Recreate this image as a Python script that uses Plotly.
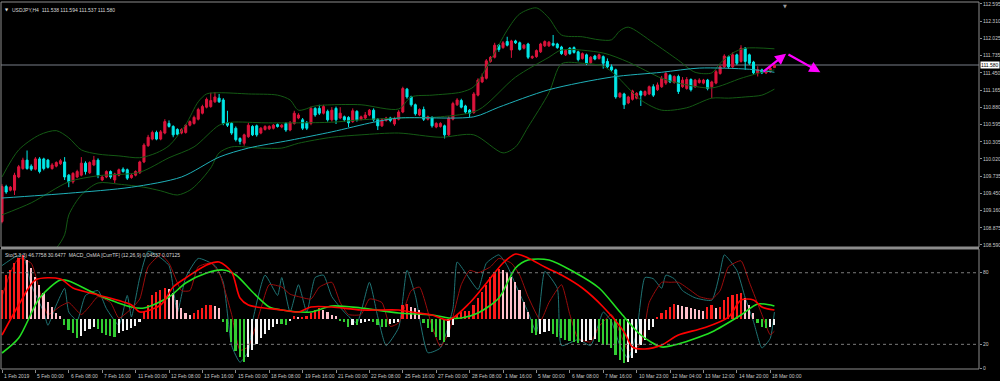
import plotly.graph_objects as go

# ---------------- DATA ----------------
opens = [108.98,109.56,109.50,109.50,109.72,109.86,110.00,109.90,109.85,110.02,
         110.02,110.00,109.86,109.90,109.94,109.97,109.75,109.64,109.72,109.75,
         109.95,109.79,109.92,110.00,109.67,109.72,109.81,109.67,109.75,109.85,
         109.84,109.71,109.75,109.79,109.97,110.24,110.35,110.46,110.35,110.45,
         110.61,110.56,110.51,110.45,110.46,110.58,110.61,110.68,110.78,110.88,
         110.89,110.97,111.03,111.00,110.62,110.61,110.53,110.36,110.28,110.39,
         110.56,110.57,110.45,110.51,110.52,110.53,110.59,110.55,110.61,110.50,
         110.61,110.70,110.67,110.62,110.61,110.86,110.86,110.78,110.81,110.67,
         110.86,110.70,110.72,110.71,110.64,110.81,110.68,110.70,110.75,110.83,
         110.68,110.57,110.66,110.70,110.60,110.68,110.80,111.18,111.05,110.92,
         110.75,110.84,110.68,110.71,110.55,110.56,110.57,110.42,110.68,110.92,
         110.99,110.90,110.83,110.79,111.08,111.30,111.36,111.64,111.71,111.91,
         111.87,111.97,111.83,111.98,111.95,111.86,111.93,111.70,111.72,111.80,
         111.90,111.90,111.94,111.93,111.88,111.75,111.86,111.87,111.80,111.69,
         111.75,111.62,111.73,111.69,111.72,111.64,111.55,111.50,111.05,111.10,
         110.95,111.01,111.03,111.14,111.08,111.10,111.22,111.17,111.22,111.28,
         111.41,111.29,111.39,111.22,111.19,111.34,111.22,111.29,111.28,111.33,
         111.22,111.28,111.44,111.55,111.72,111.55,111.75,111.64,111.86,111.75,
         111.63,111.45,111.50,111.45,111.47,111.538]
highs = [109.60,109.59,109.57,109.79,109.92,110.04,110.16,109.93,110.05,110.05,
         110.04,110.02,109.95,109.98,110.02,110.05,109.77,109.80,109.84,110.05,
         109.98,109.98,110.07,110.03,109.75,109.83,109.83,109.79,109.86,109.88,
         109.86,109.77,109.83,109.99,110.28,110.42,110.49,110.49,110.50,110.68,
         110.66,110.58,110.53,110.53,110.60,110.66,110.74,110.87,110.92,111.04,
         111.12,111.13,111.10,111.03,110.82,110.63,110.56,110.38,110.44,110.62,
         110.58,110.59,110.55,110.58,110.58,110.60,110.61,110.60,110.63,110.65,
         110.82,110.78,110.70,110.65,110.89,110.88,110.92,110.92,110.84,110.88,
         110.89,110.88,110.74,110.73,110.86,110.83,110.74,110.80,110.85,110.86,
         110.70,110.70,110.72,110.72,110.72,110.83,111.22,111.20,111.07,110.94,
         110.86,110.89,110.74,110.73,110.63,110.63,110.59,110.73,110.97,111.03,
         111.02,110.92,110.85,111.13,111.36,111.44,111.68,111.73,111.95,111.93,
         111.98,112.05,112.00,112.00,111.97,111.93,111.95,111.74,111.84,111.95,
         111.99,111.98,112.08,111.95,111.90,111.84,111.88,111.89,111.82,111.79,
         111.77,111.73,111.75,111.77,111.74,111.69,111.59,111.52,111.13,111.12,
         111.07,111.17,111.13,111.16,111.16,111.24,111.26,111.29,111.40,111.47,
         111.43,111.41,111.42,111.38,111.38,111.36,111.35,111.36,111.35,111.35,
         111.32,111.50,111.57,111.76,111.74,111.79,111.77,111.91,111.88,111.77,
         111.65,111.56,111.52,111.52,111.55,111.594]
lows = [108.95,109.44,109.48,109.42,109.70,109.84,109.84,109.82,109.83,109.78,
        109.83,109.86,109.84,109.88,109.92,109.67,109.55,109.61,109.70,109.73,
        109.76,109.77,109.90,109.70,109.65,109.70,109.69,109.62,109.73,109.79,
        109.67,109.69,109.73,109.77,109.95,110.22,110.33,110.33,110.33,110.43,
        110.54,110.38,110.41,110.43,110.44,110.56,110.59,110.66,110.76,110.86,
        110.87,110.95,110.95,110.58,110.55,110.42,110.31,110.26,110.24,110.37,
        110.40,110.39,110.43,110.49,110.50,110.51,110.54,110.53,110.47,110.48,
        110.59,110.68,110.50,110.50,110.58,110.72,110.75,110.76,110.64,110.64,
        110.60,110.68,110.64,110.55,110.62,110.64,110.66,110.68,110.73,110.64,
        110.50,110.55,110.64,110.63,110.57,110.66,110.78,111.02,110.89,110.74,
        110.73,110.65,110.66,110.54,110.53,110.54,110.36,110.40,110.66,110.90,
        110.86,110.77,110.71,110.77,111.06,111.28,111.34,111.62,111.69,111.80,
        111.85,111.89,111.70,111.93,111.82,111.84,111.68,111.68,111.70,111.78,
        111.88,111.88,111.89,111.85,111.75,111.73,111.75,111.77,111.64,111.67,
        111.58,111.60,111.66,111.67,111.52,111.53,111.47,111.02,111.03,110.85,
        110.93,110.99,111.01,110.90,111.06,111.08,111.05,111.15,111.20,111.25,
        111.28,111.27,111.10,111.20,111.17,111.14,111.20,111.27,111.26,111.16,
        111.03,111.26,111.42,111.53,111.52,111.53,111.58,111.62,111.50,111.58,
        111.42,111.39,111.43,111.43,111.45,111.537]
closes = [109.56,109.47,109.55,109.75,109.89,110.00,109.86,109.85,110.02,109.81,
          109.86,109.88,109.92,109.96,109.99,109.72,109.64,109.78,109.81,109.95,
          109.81,109.96,110.00,109.75,109.72,109.81,109.72,109.77,109.84,109.81,
          109.70,109.75,109.81,109.97,110.25,110.38,110.46,110.35,110.47,110.64,
          110.56,110.42,110.43,110.51,110.58,110.64,110.71,110.84,110.89,111.01,
          110.99,111.05,110.97,110.61,110.58,110.45,110.34,110.31,110.42,110.58,
          110.42,110.42,110.53,110.56,110.56,110.58,110.56,110.58,110.50,110.62,
          110.78,110.75,110.53,110.53,110.86,110.75,110.78,110.89,110.67,110.83,
          110.67,110.78,110.67,110.62,110.82,110.67,110.72,110.75,110.83,110.67,
          110.57,110.67,110.70,110.66,110.69,110.80,111.19,111.05,110.92,110.77,
          110.84,110.68,110.72,110.57,110.61,110.61,110.42,110.70,110.94,111.00,
          110.88,110.80,110.78,111.10,111.33,111.38,111.65,111.71,111.91,111.84,
          111.95,111.91,111.98,111.95,111.84,111.91,111.71,111.72,111.82,111.93,
          111.97,111.96,111.91,111.87,111.77,111.82,111.77,111.79,111.67,111.77,
          111.61,111.71,111.68,111.75,111.61,111.55,111.50,111.05,111.11,110.92,
          111.05,111.15,111.11,111.08,111.14,111.22,111.08,111.25,111.36,111.44,
          111.30,111.39,111.14,111.33,111.34,111.17,111.33,111.33,111.33,111.19,
          111.30,111.47,111.55,111.73,111.55,111.75,111.61,111.86,111.64,111.61,
          111.45,111.50,111.45,111.50,111.53,111.580]

# Bollinger bands and moving average, read at sample bars
bb_up_idx = [0,4,9,13,16,19,23,28,33,37,40,44,47,49,52,59,66,69,71,75,79,86,95,98,103,110,113,117,121,124,128,131,134,139,143,146,148,150,156,162,166,170,172,175,178,185]
bb_up = [109.72,110.17,110.42,110.49,110.37,110.17,110.10,110.07,110.04,110.12,110.24,110.59,110.97,111.10,111.12,111.10,111.08,111.00,110.83,110.90,110.92,110.92,110.85,111.05,111.08,111.13,111.22,111.66,112.16,112.43,112.53,112.36,112.08,112.05,112.00,112.00,112.15,112.21,111.95,111.66,111.46,111.45,111.61,111.78,111.86,111.85]
bb_mid_idx = [0,7,16,23,33,40,46,52,55,63,71,79,86,95,105,114,123,131,134,144,150,158,162,170,177,182,185]
bb_mid = [109.09,109.29,109.64,109.74,109.80,110.04,110.22,110.58,110.63,110.62,110.62,110.63,110.67,110.70,110.72,110.83,111.38,111.71,111.83,111.78,111.63,111.36,111.28,111.20,111.36,111.46,111.50]
bb_lo_idx = [0,4,9,13,15,16,19,23,28,34,38,42,45,47,50,52,55,62,67,71,79,86,95,105,113,120,123,126,131,134,139,144,147,153,158,164,170,174,178,182,185]
bb_lo = [108.46,108.31,108.37,108.54,108.76,109.09,109.42,109.62,109.60,109.55,109.49,109.42,109.50,109.62,109.87,110.12,110.22,110.20,110.20,110.28,110.38,110.42,110.45,110.38,110.42,110.12,110.22,110.55,111.12,111.60,111.61,111.56,111.41,111.00,110.83,110.87,111.03,111.03,111.05,111.08,111.18]
ma_idx = [0,16,31,43,52,59,69,79,89,95,113,119,131,146,158,167,179,185]
ma_val = [109.37,109.45,109.55,109.72,110.05,110.20,110.33,110.47,110.63,110.70,110.72,110.88,111.17,111.38,111.46,111.53,111.51,111.46]

price_line = 111.580

# MACD OsMA histogram and lines (12,26,9)
osma = [0.145,0.220,0.245,0.280,0.305,0.320,0.295,0.255,0.210,0.170,
        0.130,0.085,0.060,0.030,0.015,-0.030,-0.055,-0.070,-0.095,-0.085,
        -0.060,-0.050,-0.040,-0.050,-0.070,-0.080,-0.085,-0.090,-0.070,-0.060,
        -0.055,-0.045,-0.035,-0.015,0.035,0.070,0.120,0.135,0.145,0.155,
        0.150,0.130,0.095,0.055,0.030,0.020,0.030,0.045,0.055,0.070,
        0.070,0.065,0.055,-0.015,-0.065,-0.115,-0.160,-0.190,-0.215,-0.190,
        -0.155,-0.125,-0.095,-0.075,-0.055,-0.040,-0.025,-0.025,-0.030,-0.010,
        0.015,0.010,0.010,0.015,0.030,0.045,0.055,0.045,0.035,0.020,
        0.015,-0.010,-0.015,-0.040,-0.030,-0.030,-0.020,-0.015,-0.010,-0.015,
        -0.030,-0.040,-0.040,-0.025,-0.020,-0.015,0.070,0.075,0.060,0.055,
        0.045,-0.020,-0.045,-0.065,-0.090,-0.105,-0.115,-0.090,-0.030,0.020,
        0.035,0.040,0.040,0.070,0.105,0.135,0.170,0.210,0.235,0.250,
        0.245,0.235,0.210,0.185,0.145,0.085,0.035,-0.070,-0.080,-0.075,
        -0.065,-0.060,-0.075,-0.090,-0.095,-0.105,-0.110,-0.115,-0.120,-0.115,
        -0.110,-0.105,-0.100,-0.115,-0.130,-0.130,-0.145,-0.180,-0.205,-0.220,
        -0.215,-0.195,-0.170,-0.130,-0.105,-0.055,-0.040,0.010,0.030,0.045,
        0.060,0.075,0.070,0.065,0.060,0.055,0.050,0.045,0.040,0.060,
        0.070,0.055,0.060,0.095,0.110,0.120,0.125,0.130,0.105,0.070,
        0.030,-0.020,-0.040,-0.045,-0.040,-0.030]
macd_idx = [0,4,8,14,17,23,31,33,38,41,44,49,52,55,57,59,67,71,74,79,86,95,98,103,107,112,117,120,123,126,130,134,139,144,149,151,154,158,162,168,174,177,180,182,185]
macd_main = [-0.080,0.070,0.195,0.200,0.155,0.120,0.070,0.035,0.070,0.160,0.205,0.270,0.285,0.235,0.105,0.070,0.045,0.035,0.060,0.060,0.045,0.045,0.035,0.020,-0.005,0.080,0.205,0.280,0.325,0.305,0.260,0.220,0.155,0.060,-0.065,-0.140,-0.150,-0.130,-0.080,-0.045,0.010,0.095,0.095,0.060,0.045]
sig_idx = [0,4,9,14,16,23,31,34,40,44,49,53,56,60,64,67,74,79,86,95,103,107,110,114,119,123,126,131,137,143,148,153,158,161,165,170,177,181,185]
macd_signal = [-0.170,-0.095,0.105,0.195,0.190,0.120,0.060,0.055,0.110,0.180,0.230,0.245,0.220,0.135,0.060,0.045,0.035,0.065,0.055,0.030,0.020,0.005,0.005,0.030,0.105,0.255,0.295,0.295,0.235,0.155,0.035,-0.080,-0.140,-0.130,-0.105,-0.065,0.020,0.075,0.065]

# Stochastic (5,3,3)
sto_idx = [0,3,5,7,10,11,13,15,16,18,20,23,25,28,30,31,33,35,37,40,42,44,47,51,53,55,57,59,60,63,66,67,69,71,73,75,77,79,82,85,88,90,92,95,97,99,102,105,108,109,111,114,116,119,121,123,126,128,130,133,134,138,141,144,146,148,150,152,154,156,158,159,161,163,166,170,172,173,176,178,180,182,184,185]
sto_main = [86,93,95,70,47,36,53,67,47,40,61,65,50,36,61,43,76,98,95,86,47,76,92,86,72,19,5,14,39,78,61,76,47,70,47,76,78,60,47,38,72,43,19,34,82,61,13,17,50,89,80,66,88,95,86,70,47,30,81,67,19,24,19,47,39,19,8,30,76,75,67,78,75,65,59,57,81,95,82,59,39,17,25,47]
stos_idx = [0,2,4,7,9,11,14,16,19,21,23,26,28,31,33,35,38,40,43,45,47,50,52,55,57,59,62,64,67,69,71,74,76,79,81,83,86,88,91,93,95,98,100,103,105,107,110,112,114,117,119,122,124,126,129,131,134,136,138,141,143,146,148,150,153,155,158,160,162,165,167,170,172,174,177,179,182,184,185]
sto_signal = [60,80,92,88,65,45,52,55,45,52,60,55,42,50,58,85,95,88,65,65,85,88,80,45,15,18,50,70,68,62,60,58,68,72,55,45,45,58,55,35,38,65,68,35,18,30,70,82,80,85,92,88,78,60,40,55,70,45,25,22,35,45,30,15,20,55,72,72,72,65,60,58,65,85,90,72,45,28,31]

time_label_idx = list(range(0, 185, 8))
time_labels = ["1 Feb 2019","5 Feb 00:00","6 Feb 08:00","7 Feb 16:00","11 Feb 00:00","12 Feb 08:00",
               "13 Feb 16:00","15 Feb 00:00","18 Feb 08:00","19 Feb 16:00","21 Feb 00:00","22 Feb 08:00",
               "25 Feb 16:00","27 Feb 00:00","28 Feb 08:00","1 Mar 16:00","5 Mar 00:00","6 Mar 08:00",
               "7 Mar 16:00","10 Mar 23:00","12 Mar 04:00","13 Mar 12:00","14 Mar 20:00","18 Mar 00:00"]
price_ticks = [112.595,112.310,112.025,111.735,111.450,111.165,110.880,110.595,110.305,110.020,
               109.735,109.450,109.160,108.875,108.590]
sto_ticks = [100, 80, 20, 0]

# arrows (forecast drawn on chart): tail index, tail price, tip index, tip price
arrow1 = (182.0, 111.45, 187.8, 111.77)
arrow2 = (188.0, 111.77, 196.0, 111.46)

# ---------------- FIGURE ----------------
bars = list(range(len(closes)))
FONT = "Liberation Sans"
TXT = "#c8c8c8"
GRID = "#8c8c8c"

fig = go.Figure()

# top panel
for xs, ys in ((bb_up_idx, bb_up), (bb_mid_idx, bb_mid), (bb_lo_idx, bb_lo)):
    fig.add_trace(go.Scatter(x=xs, y=ys, mode="lines",
                             line=dict(color="#145a14", width=1, shape="spline", smoothing=0.8),
                             xaxis="x", yaxis="y", hoverinfo="skip"))
fig.add_trace(go.Scatter(x=ma_idx, y=ma_val, mode="lines", line=dict(color="#1fb0b8", width=1, shape="spline", smoothing=0.8),
                         xaxis="x", yaxis="y", hoverinfo="skip"))
fig.add_trace(go.Candlestick(x=bars, open=opens, high=highs, low=lows, close=closes,
                             increasing=dict(line=dict(color="#dc143c", width=1), fillcolor="#dc143c"),
                             decreasing=dict(line=dict(color="#00e8e8", width=1), fillcolor="#00e8e8"),
                             whiskerwidth=0, xaxis="x", yaxis="y", hoverinfo="skip"))

# bottom panel: OsMA histogram colours follow MT4 rising/falling rule
hist_colors = []
for i, v in enumerate(osma):
    prev = osma[i - 1] if i > 0 else v
    if v >= 0:
        hist_colors.append("#ff1a1a" if v >= prev else "#ffc0cb")
    else:
        hist_colors.append("#32cd32" if v <= prev else "#f4f4f4")
fig.add_trace(go.Bar(x=bars, y=osma, marker=dict(color=hist_colors, line=dict(width=0)), width=0.40,
                     xaxis="x2", yaxis="y3", hoverinfo="skip"))
fig.add_trace(go.Scatter(x=sig_idx, y=macd_signal, mode="lines", line=dict(color="#22e022", width=1.6, shape="spline", smoothing=0.8),
                         xaxis="x2", yaxis="y3", hoverinfo="skip"))
fig.add_trace(go.Scatter(x=macd_idx, y=macd_main, mode="lines", line=dict(color="#ff0000", width=1.6, shape="spline", smoothing=0.8),
                         xaxis="x2", yaxis="y3", hoverinfo="skip"))
fig.add_trace(go.Scatter(x=sto_idx, y=sto_main, mode="lines", line=dict(color="#1f7374", width=1, shape="spline", smoothing=0.5),
                         xaxis="x2", yaxis="y2", hoverinfo="skip"))
fig.add_trace(go.Scatter(x=stos_idx, y=sto_signal, mode="lines", line=dict(color="#9a0c0c", width=1, shape="spline", smoothing=0.5),
                         xaxis="x2", yaxis="y2", hoverinfo="skip"))

TOP0 = 0.3324
BOT1 = 0.327
XR = [-0.24, 234.0]

fig.update_layout(
    width=1000, height=381, template="none",
    paper_bgcolor="#000000", plot_bgcolor="#000000",
    margin=dict(l=1, r=21, t=2, b=12), showlegend=False,
    font=dict(family=FONT, size=5, color=TXT),
    xaxis=dict(domain=[0, 1], anchor="y", range=XR, showticklabels=False, showgrid=False, zeroline=False,
               rangeslider=dict(visible=False), ticks="", automargin=False),
    xaxis2=dict(domain=[0, 1], anchor="y2", range=XR, matches="x", showgrid=False, zeroline=False,
                tickvals=time_label_idx, showticklabels=False, ticks="outside", ticklen=3, tickcolor=GRID,
                automargin=False),
    yaxis=dict(domain=[TOP0, 1], anchor="x", side="right", range=[108.556, 112.628], showgrid=False, zeroline=False,
               tickvals=price_ticks, ticktext=[f"{v:.3f}" for v in price_ticks], ticks="outside", ticklen=2,
               tickcolor=GRID, tickfont=dict(size=5, color=TXT, family=FONT), automargin=False),
    yaxis2=dict(domain=[0, BOT1], anchor="x2", side="right", range=[-0.67, 99.9], showgrid=False, zeroline=False,
                tickvals=sto_ticks, ticktext=[str(v) for v in sto_ticks], ticks="outside", ticklen=2,
                tickcolor=GRID, tickfont=dict(size=5, color=TXT, family=FONT), automargin=False),
    yaxis3=dict(overlaying="y2", anchor="x2", range=[-0.25, 0.35], visible=False),
    bargap=0,
)

shapes = [
    dict(type="rect", xref="paper", yref="paper", x0=0, x1=1, y0=TOP0, y1=1, line=dict(color=GRID, width=1)),
    dict(type="rect", xref="paper", yref="paper", x0=0, x1=1, y0=0, y1=BOT1, line=dict(color=GRID, width=1)),
    dict(type="line", xref="paper", yref="paper", x0=0, x1=1, y0=(TOP0 + BOT1) / 2, y1=(TOP0 + BOT1) / 2,
         line=dict(color=GRID, width=2)),
    dict(type="line", xref="paper", yref="y", x0=0, x1=1, y0=price_line, y1=price_line,
         line=dict(color="#3c3f44", width=2), layer="below"),
    dict(type="line", xref="paper", yref="y2", x0=0, x1=1, y0=80, y1=80, line=dict(color="#7a7a7a", width=1, dash="dot")),
    dict(type="line", xref="paper", yref="y2", x0=0, x1=1, y0=20, y1=20, line=dict(color="#7a7a7a", width=1, dash="dot")),
]
fig.update_layout(shapes=shapes)

ann = []
for i, t in zip(time_label_idx, time_labels):
    ann.append(dict(x=i, xref="x2", y=0, yref="paper", text=t, showarrow=False, xanchor="left", yanchor="top",
                    xshift=0, yshift=-2, font=dict(size=5, color=TXT, family=FONT)))
ann.append(dict(x=0, xref="paper", y=1, yref="paper", text="▼", showarrow=False, xanchor="left", yanchor="top",
                xshift=2, yshift=-3, font=dict(size=4, color="#e0e0e0", family="DejaVu Sans")))
ann.append(dict(x=0, xref="paper", y=1, yref="paper", text="USDJPY,H4  111.538 111.594 111.537 111.580",
                showarrow=False, xanchor="left", yanchor="top", xshift=9, yshift=-3,
                font=dict(size=5, color="#d8d8d8", family=FONT)))
ann.append(dict(x=0, xref="paper", y=BOT1, yref="paper",
                text="Sto(5,3,3) 46.7758 30.6477  MACD_OsMA [CurrTF] (12,26,9) 0.04537 0.07125",
                showarrow=False, xanchor="left", yanchor="top", xshift=2, yshift=-1,
                font=dict(size=5, color="#d8d8d8", family=FONT)))
ann.append(dict(x=1, xref="paper", y=price_line, yref="y", text="111.580", showarrow=False, xanchor="left",
                yanchor="middle", xshift=1, bgcolor="#ffffff", borderpad=0,
                font=dict(size=5, color="#000000", family=FONT)))
ann.append(dict(x=187.5, xref="x", y=1, yref="paper", text="▼", showarrow=False, xanchor="center", yanchor="top",
                yshift=1, font=dict(size=5, color="#9a9a9a", family="DejaVu Sans")))
for a in (arrow1, arrow2):
    ann.append(dict(x=a[2], y=a[3], xref="x", yref="y", ax=a[0], ay=a[1], axref="x", ayref="y", text="",
                    showarrow=True, arrowhead=2, arrowsize=1.0, arrowwidth=2.2, arrowcolor="#ff00ff", standoff=0))
fig.update_layout(annotations=ann)

fig.write_html("out.html")
